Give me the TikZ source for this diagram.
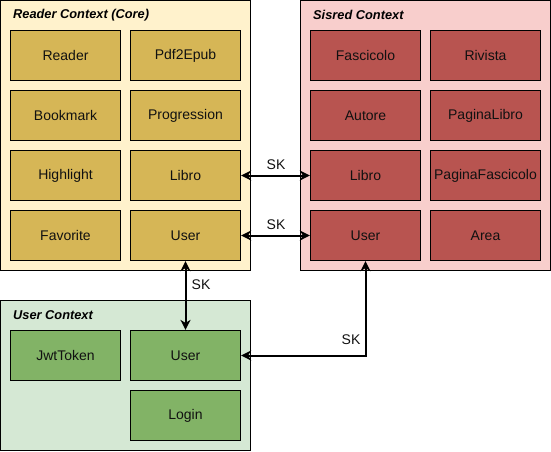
\documentclass[tikz,border=0pt]{standalone}
\usepackage{fontspec}
\setmainfont{Liberation Sans}
\usetikzlibrary{arrows.meta}
\definecolor{ylwbg}{HTML}{FFF2CC}
\definecolor{ylwbox}{HTML}{D6B656}
\definecolor{redbg}{HTML}{F8CECC}
\definecolor{redbox}{HTML}{B85450}
\definecolor{grnbg}{HTML}{D5E8D4}
\definecolor{grnbox}{HTML}{82B366}
\definecolor{txt}{HTML}{111111}
\tikzset{
  ctx/.style={draw=black, line width=1.2pt, inner sep=0pt, minimum width=250pt},
  ent/.style={draw=black, line width=1.2pt, minimum width=110pt, minimum height=50pt, inner sep=0pt, font=\fontsize{14}{16}\selectfont, text=txt},
  ctxtitle/.style={anchor=west, inner sep=0pt, font=\fontsize{12.8}{15}\selectfont\bfseries\itshape},
  conn/.style={line width=2pt, {Stealth[length=10pt,width=10pt,inset=3pt]}-{Stealth[length=10pt,width=10pt,inset=3pt]}},
  sk/.style={inner sep=0pt, font=\fontsize{14}{16}\selectfont, text=txt}
}
\begin{document}
\begin{tikzpicture}[x=1pt,y=-1pt]
\useasboundingbox (0,0) rectangle (551,451);
% containers
\node[ctx, fill=ylwbg, minimum height=270pt] (readerctx) at (125.5,135.5) {};
\node[ctx, fill=redbg, minimum height=270pt] (sisredctx) at (425.5,135.5) {};
\node[ctx, fill=grnbg, minimum height=150pt] (userctx) at (125.5,375.5) {};
\node[ctxtitle] (readertitle) at (13,15) {Reader Context (Core)};
\node[ctxtitle] (sisredtitle) at (313,15) {Sisred Context};
\node[ctxtitle] (usertitle) at (13,315) {User Context};
% reader entities
\node[ent, fill=ylwbox] (rreader) at (65.5,55.5) {Reader};
\node[ent, fill=ylwbox] (rpdf) at (185.5,55.5) {Pdf2Epub};
\node[ent, fill=ylwbox] (rbook) at (65.5,115.5) {Bookmark};
\node[ent, fill=ylwbox] (rprog) at (185.5,115.5) {Progression};
\node[ent, fill=ylwbox] (rhigh) at (65.5,175.5) {Highlight};
\node[ent, fill=ylwbox] (rlibro) at (185.5,175.5) {Libro};
\node[ent, fill=ylwbox] (rfav) at (65.5,235.5) {Favorite};
\node[ent, fill=ylwbox] (ruser) at (185.5,235.5) {User};
% sisred entities
\node[ent, fill=redbox] (sfasc) at (365.5,55.5) {Fascicolo};
\node[ent, fill=redbox] (sriv) at (485.5,55.5) {Rivista};
\node[ent, fill=redbox] (saut) at (365.5,115.5) {Autore};
\node[ent, fill=redbox] (spagl) at (485.5,115.5) {PaginaLibro};
\node[ent, fill=redbox] (slibro) at (365.5,175.5) {Libro};
\node[ent, fill=redbox] (spagf) at (485.5,175.5) {PaginaFascicolo};
\node[ent, fill=redbox] (suser) at (365.5,235.5) {User};
\node[ent, fill=redbox] (sarea) at (485.5,235.5) {Area};
% user entities
\node[ent, fill=grnbox] (ujwt) at (65.5,355.5) {JwtToken};
\node[ent, fill=grnbox] (uuser) at (185.5,355.5) {User};
\node[ent, fill=grnbox] (ulogin) at (185.5,415.5) {Login};
% connectors
\draw[conn] (rlibro.east) -- (slibro.west);
\draw[conn] (ruser.east) -- (suser.west);
\draw[conn] (ruser.south) -- (uuser.north);
\draw[conn] (suser.south) |- (uuser.east);
% labels
\node[sk] (sk1) at (276,165) {SK};
\node[sk] (sk2) at (276,225) {SK};
\node[sk] (sk3) at (201,285) {SK};
\node[sk] (sk4) at (351,340) {SK};
\end{tikzpicture}
\end{document}
